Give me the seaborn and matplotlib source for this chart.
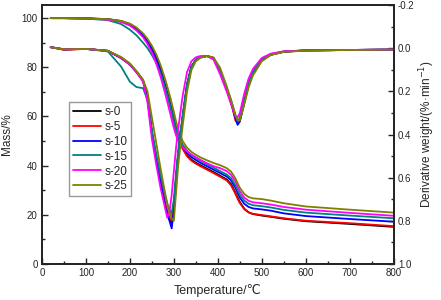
import numpy as np
import pandas as pd
import matplotlib
matplotlib.use("Agg")
import matplotlib.pyplot as plt
from matplotlib.ticker import MultipleLocator
import seaborn as sns

# temperature grid (C) shared by all curves
temperature = [20, 50, 100, 150, 180, 200, 215, 230, 240, 250,
               260, 270, 280, 285, 290, 295, 300, 305, 310, 320,
               330, 340, 350, 360, 375, 390, 405, 420, 430, 440,
               445, 450, 460, 470, 480, 500, 520, 550, 600, 700, 800]

samples = ["s-0", "s-5", "s-10", "s-15", "s-20", "s-25"]
colors = ["#000000", "#ff0000", "#0000ff", "#008080", "#ff00ff", "#808000"]

# TG curves, mass %
tg_s0 = [100, 100, 99.9, 99.6, 98.8, 97.5, 95.7, 93.2, 90.8, 87.8,
         84, 79, 73, 69.8, 66.5, 62.8, 58.8, 55, 51.5, 47.2,
         44.2, 42.4, 41.2, 40.2, 38.8, 37.4, 35.9, 34.4, 32.5, 29,
         27, 25.2, 22.5, 21, 20.3, 19.7, 19.2, 18.4, 17.4, 16.3, 15.1]
tg_s5 = [100, 100, 99.9, 99.5, 98.6, 97.2, 95.3, 92.7, 90.2, 87,
         83, 78, 72, 68.8, 65.5, 62, 58, 54.3, 51, 46.8,
         43.8, 42, 40.8, 39.8, 38.4, 37, 35.5, 34, 32, 28.5,
         26.5, 24.8, 22.3, 21, 20.4, 19.9, 19.4, 18.6, 17.6, 16.6, 15.4]
tg_s10 = [100, 100, 99.9, 99.5, 98.7, 97.3, 95.5, 93, 90.5, 87.3,
          83.3, 78.3, 72.3, 69, 65.8, 62.3, 58.5, 55, 52, 48,
          45.2, 43.5, 42.3, 41.2, 39.8, 38.4, 37, 35.6, 34, 31,
          29, 27, 24.5, 23.2, 22.6, 22.2, 21.7, 20.6, 19.5, 18.3, 17.2]
tg_s15 = [100, 100, 99.8, 99.2, 97.6, 95.3, 93, 90, 87.8, 85,
          81.8, 77.3, 71.8, 68.6, 65.3, 61.8, 58.2, 54.8, 52, 48.5,
          46, 44.3, 43.1, 42, 40.6, 39.2, 37.8, 36.4, 34.9, 32,
          30, 28.2, 25.8, 24.5, 23.9, 23.5, 23, 22, 20.9, 19.7, 18.6]
tg_s20 = [100, 100, 99.8, 99.4, 98.5, 97, 95, 92.2, 89.5, 86,
          81.5, 76, 69.5, 66, 62.5, 58.8, 55.3, 52.3, 50, 47.5,
          45.8, 44.5, 43.4, 42.4, 41, 39.8, 39, 37.8, 36.3, 33.5,
          31.5, 29.6, 27, 25.7, 25.1, 24.7, 24.2, 23.2, 22.1, 20.8, 19.6]
tg_s25 = [100, 100, 99.9, 99.6, 98.9, 97.8, 96.2, 93.8, 91.6, 88.8,
          85.3, 80.8, 75.3, 72.2, 69, 65.5, 61.8, 58, 54.6, 50,
          47.3, 45.6, 44.4, 43.4, 42.2, 41.1, 40.2, 39, 37.6, 34.8,
          32.8, 31, 28.5, 27.2, 26.7, 26.4, 25.8, 24.7, 23.4, 22.1, 20.9]

# DTG curves, %/min (plotted on inverted right axis)
dtg_s0 = [-0.005, 0.005, 0.003, 0.012, 0.045, 0.075, 0.11, 0.15, 0.23, 0.39,
          0.51, 0.62, 0.72, 0.76, 0.79, 0.81, 0.73, 0.60, 0.49, 0.32,
          0.17, 0.085, 0.055, 0.042, 0.036, 0.045, 0.11, 0.19, 0.25, 0.32,
          0.35, 0.335, 0.25, 0.17, 0.115, 0.055, 0.03, 0.016, 0.01, 0.008, 0.006]
dtg_s5 = [-0.005, 0.008, 0.003, 0.012, 0.045, 0.075, 0.11, 0.15, 0.23, 0.39,
          0.51, 0.62, 0.72, 0.755, 0.785, 0.80, 0.725, 0.60, 0.49, 0.32,
          0.17, 0.085, 0.055, 0.042, 0.036, 0.045, 0.11, 0.19, 0.25, 0.335,
          0.345, 0.325, 0.24, 0.16, 0.11, 0.055, 0.03, 0.016, 0.01, 0.008, 0.007]
dtg_s10 = [-0.005, 0.005, 0.003, 0.012, 0.045, 0.075, 0.11, 0.15, 0.23, 0.39,
           0.51, 0.62, 0.73, 0.77, 0.80, 0.835, 0.75, 0.61, 0.49, 0.32,
           0.17, 0.085, 0.055, 0.042, 0.036, 0.045, 0.11, 0.19, 0.25, 0.325,
           0.355, 0.34, 0.255, 0.17, 0.115, 0.055, 0.03, 0.016, 0.01, 0.008, 0.006]
dtg_s15 = [-0.005, 0.005, 0.003, 0.015, 0.085, 0.155, 0.18, 0.185, 0.24, 0.38,
           0.49, 0.59, 0.68, 0.72, 0.75, 0.765, 0.70, 0.58, 0.47, 0.31,
           0.165, 0.085, 0.055, 0.042, 0.036, 0.045, 0.105, 0.185, 0.24, 0.31,
           0.335, 0.325, 0.245, 0.165, 0.11, 0.05, 0.028, 0.015, 0.01, 0.008, 0.006]
dtg_s20 = [-0.005, 0.005, 0.003, 0.012, 0.045, 0.075, 0.11, 0.155, 0.25, 0.42,
           0.54, 0.65, 0.74, 0.785, 0.76, 0.68, 0.57, 0.46, 0.37, 0.22,
           0.11, 0.06, 0.042, 0.036, 0.036, 0.052, 0.12, 0.20, 0.26, 0.315,
           0.32, 0.30, 0.21, 0.14, 0.095, 0.045, 0.025, 0.014, 0.01, 0.008, 0.006]
dtg_s25 = [-0.005, 0.005, 0.003, 0.012, 0.04, 0.07, 0.105, 0.145, 0.20, 0.32,
           0.44, 0.56, 0.67, 0.72, 0.76, 0.79, 0.80, 0.67, 0.54, 0.36,
           0.20, 0.10, 0.06, 0.045, 0.036, 0.042, 0.09, 0.175, 0.24, 0.31,
           0.335, 0.335, 0.26, 0.18, 0.125, 0.06, 0.032, 0.017, 0.011, 0.008, 0.006]

tg_data = [tg_s0, tg_s5, tg_s10, tg_s15, tg_s20, tg_s25]
dtg_data = [dtg_s0, dtg_s5, dtg_s10, dtg_s15, dtg_s20, dtg_s25]

sns.set_style("ticks")
plt.rcParams['font.family'] = ['Liberation Sans', 'DejaVu Sans']
plt.rcParams['axes.linewidth'] = 1.2

fig = plt.figure(figsize=(4.41, 3.0), dpi=100)
ax = fig.add_axes([0.095, 0.12, 0.798, 0.863])
ax2 = ax.twinx()

for name, col, tg, dtg in zip(samples, colors, tg_data, dtg_data):
    sns.lineplot(x=temperature, y=tg, ax=ax, color=col, lw=1.3, label=name)
    sns.lineplot(x=temperature, y=dtg, ax=ax2, color=col, lw=1.3, legend=False)

ax.set_xlim(0, 800)
ax.set_ylim(0, 105.3)
ax2.set_ylim(1.0, -0.2)

ax.xaxis.set_major_locator(MultipleLocator(100))
ax.xaxis.set_minor_locator(MultipleLocator(50))
ax.yaxis.set_major_locator(MultipleLocator(20))
ax.yaxis.set_minor_locator(MultipleLocator(10))
ax2.yaxis.set_minor_locator(MultipleLocator(0.1))
ax2.set_yticks([-0.2, 0.0, 0.2, 0.4, 0.6, 0.8, 1.0])
ax2.set_yticklabels(["-0.2", "0.0", "0.2", "0.4", "0.6", "0.8", "1.0"])

ax.tick_params(axis='both', which='major', direction='in', length=4, width=1,
               labelsize=7, top=False, pad=3)
ax.tick_params(axis='both', which='minor', direction='in', length=2.5, width=1, top=False)
ax2.tick_params(axis='y', which='major', direction='in', length=4, width=1,
                labelsize=7, pad=3)
ax2.tick_params(axis='y', which='minor', direction='in', length=2.5, width=1)

ax.set_xlabel("Temperature/\u2103", fontsize=9, labelpad=4)
ax.set_ylabel("Mass/%", fontsize=8.5, labelpad=6)
ax2.set_ylabel("Derivative weight/(%\u00b7min$^{-1}$)", fontsize=8.5, labelpad=2)

for sp in ax.spines.values():
    sp.set_visible(True)
    sp.set_color('black')

leg = ax.legend(loc='upper left', bbox_to_anchor=(0.077, 0.625), borderaxespad=0,
                fontsize=8.5, handlelength=2.4, handletextpad=0.3,
                labelspacing=0.25, borderpad=0.3, fancybox=False, framealpha=1)
leg.get_frame().set_edgecolor('#999999')
leg.get_frame().set_linewidth(1.0)
leg.set_zorder(10)

fig.savefig("out.png", dpi=100)
